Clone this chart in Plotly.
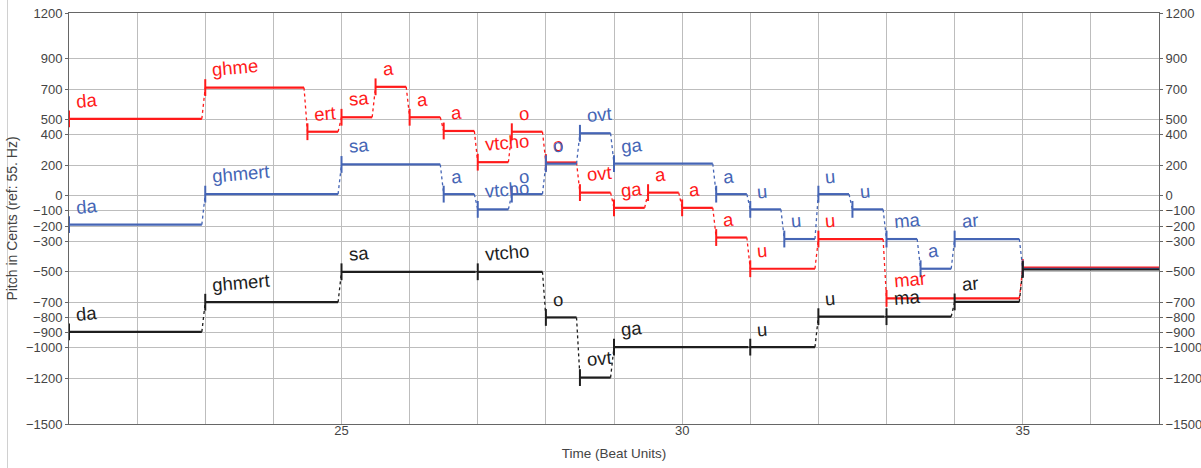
import plotly.graph_objects as go

# ---- data ----
red_start = [21, 23, 24.5, 25, 25.5, 26, 26.5, 27, 27.5, 28, 28.5, 29, 29.5, 30, 30.5, 31, 32, 33, 35]
red_end   = [22.95, 24.45, 24.95, 25.45, 25.95, 26.45, 26.95, 27.45, 27.95, 28.45, 28.95, 29.45, 29.95, 30.45, 30.95, 31.95, 32.95, 34.95, 37]
red_cents = [505, 710, 420, 515, 715, 515, 425, 220, 420, 218, 20, -80, 20, -80, -275, -480, -285, -675, -472]
red_label = ["da", "ghme", "ert", "sa", "a", "a", "a", "vtcho", "o", "o", "ovt", "ga", "a", "a", "a", "u", "u", "mar", ""]

blue_start = [21, 23, 25, 26.5, 27, 27.5, 28, 28.5, 29, 30.5, 31, 31.5, 32, 32.5, 33, 33.5, 34, 35]
blue_end   = [22.95, 24.95, 26.45, 26.95, 27.45, 27.95, 28.45, 28.95, 30.45, 30.95, 31.45, 31.95, 32.45, 32.95, 33.45, 33.95, 34.95, 37]
blue_cents = [-190, 10, 205, 10, -90, 10, 210, 410, 210, 10, -90, -285, 10, -90, -285, -480, -285, -480]
blue_label = ["da", "ghmert", "sa", "a", "vtcho", "o", "o", "ovt", "ga", "a", "u", "u", "u", "u", "ma", "a", "ar", ""]

black_start = [21, 23, 25, 27, 28, 28.5, 29, 31, 32, 33, 34, 35]
black_end   = [22.95, 24.95, 26.97, 27.95, 28.45, 28.95, 30.97, 31.95, 32.97, 33.95, 34.95, 37]
black_cents = [-895, -700, -500, -500, -800, -1195, -995, -995, -795, -795, -698, -485]
black_label = ["da", "ghmert", "sa", "vtcho", "o", "ovt", "ga", "u", "u", "ma", "ar", ""]

y_ticks = [1200, 900, 700, 500, 400, 200, 0, -100, -200, -300, -500, -700, -800, -900, -1000, -1200, -1500]
x_grid = list(range(22, 37))
x_labelled = [25, 30, 35]

series = [
    ("red", red_start, red_end, red_cents, red_label, "#ff1a1a"),
    ("blue", blue_start, blue_end, blue_cents, blue_label, "#4565b5"),
    ("black", black_start, black_end, black_cents, black_label, "#1e1e1e"),
]

FONT = "Liberation Sans, Arial, sans-serif"

fig = go.Figure()
annotations = []
for name, st, en, vals, labs, col in series:
    # dotted connectors
    cx, cy = [], []
    for i in range(len(st) - 1):
        cx += [en[i], st[i + 1], None]
        cy += [vals[i], vals[i + 1], None]
    fig.add_trace(go.Scatter(x=cx, y=cy, mode="lines", line=dict(color=col, width=1.3, dash="dot"),
                             hoverinfo="skip", showlegend=False))
    # segments
    sx, sy = [], []
    for s, e, v in zip(st, en, vals):
        sx += [s, e, None]
        sy += [v, v, None]
    fig.add_trace(go.Scatter(x=sx, y=sy, mode="lines", line=dict(color=col, width=2.2),
                             showlegend=False, name=name))
    # onset ticks
    fig.add_trace(go.Scatter(x=st, y=vals, mode="markers",
                             marker=dict(symbol="line-ns", size=12, line=dict(color=col, width=2)),
                             showlegend=False, cliponaxis=False, hoverinfo="skip"))
    for s, v, t in zip(st, vals, labs):
        if t:
            annotations.append(dict(x=s, y=v, xref="x", yref="y", text=t, showarrow=False,
                                    xanchor="left", yanchor="bottom", xshift=4, yshift=5,
                                    textangle=-5,
                                    font=dict(family=FONT, size=18.5, color=col)))

# invisible trace on right axis
fig.add_trace(go.Scatter(x=[21], y=[0], yaxis="y2", mode="markers", marker=dict(opacity=0),
                         showlegend=False, hoverinfo="skip"))

def fmt(v):
    return str(v).replace("-", "\u2212")

tick_font = dict(family=FONT, size=13, color="#444")
GRID = "#bdbdbd"
fig.update_layout(
    width=1201, height=468,
    margin=dict(l=69, r=42, t=13, b=44),
    paper_bgcolor="white", plot_bgcolor="white",
    annotations=annotations,
    xaxis=dict(range=[21, 37], tickvals=x_grid,
               ticktext=[str(v) if v in x_labelled else "" for v in x_grid],
               showgrid=True, gridcolor=GRID, gridwidth=1,
               showline=True, linecolor="#666", linewidth=1, mirror=True,
               ticks="", tickfont=tick_font, zeroline=False, ticklabelstandoff=-6,
               title=dict(text="Time (Beat Units)", font=dict(family=FONT, size=13.5, color="#444"), standoff=11),
               automargin=False),
    yaxis=dict(range=[-1500, 1200], tickvals=y_ticks, ticktext=[fmt(v) for v in y_ticks],
               showgrid=True, gridcolor=GRID, gridwidth=1,
               showline=True, linecolor="#666", linewidth=1,
               ticks="outside", ticklen=3, tickcolor="#666", tickfont=tick_font, zeroline=False,
               title=dict(text="Pitch in Cents (ref: 55. Hz)", font=dict(family=FONT, size=14, color="#444"), standoff=4),
               automargin=False),
    yaxis2=dict(range=[-1500, 1200], tickvals=y_ticks, ticktext=[fmt(v) for v in y_ticks],
                overlaying="y", side="right", showgrid=False,
                showline=True, linecolor="#666", linewidth=1,
                ticks="outside", ticklen=3, tickcolor="#666", tickfont=tick_font, zeroline=False,
                automargin=False),
    shapes=[dict(type="line", xref="paper", yref="paper", x0=-0.0564, x1=-0.0564, y0=-0.107, y1=1.032,
                 line=dict(color="#d0d0d0", width=1))],
)

fig.write_html("out.html", config={"displayModeBar": False},
               post_script="document.body.style.margin='0';")
